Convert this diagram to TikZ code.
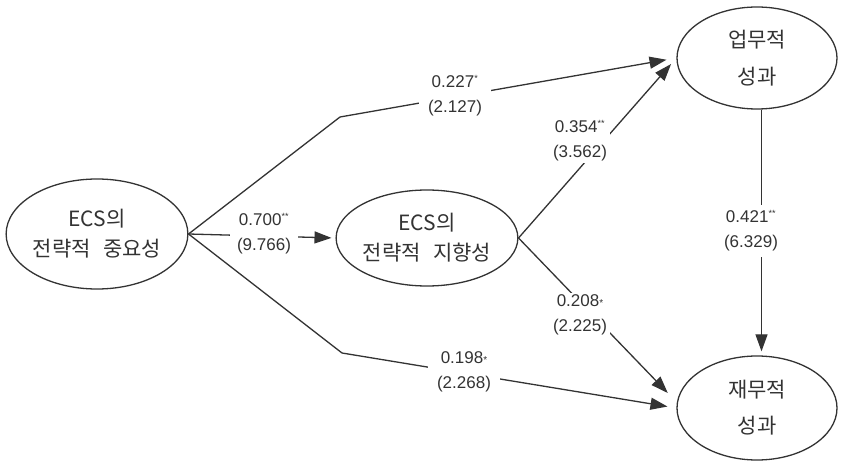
\documentclass[tikz,border=0pt]{standalone}
\usepackage{fontspec}
\setmainfont{Noto Sans CJK KR}
\newfontfamily\numfont{Liberation Sans}
\usetikzlibrary{shapes.geometric,arrows.meta,calc}
\definecolor{ink}{HTML}{333333}
\tikzset{
  construct/.style={ellipse, draw=ink, line width=1.3pt, inner sep=0pt, align=center,
    text=ink, font=\fontsize{21}{30}\selectfont},
  conn/.style={draw=ink, line width=1.3pt},
  arr/.style={conn, -{Triangle[length=17pt,width=12pt]}},
  coef/.style={fill=white, inner xsep=3pt, inner ysep=2pt, align=center, text=ink,
    font=\numfont\fontsize{17}{25}\selectfont}
}
\newcommand{\sstar}[1]{\textsuperscript{\fontsize{9}{9}\selectfont #1}}
\newcommand{\mstar}{{\fontsize{10}{10}\selectfont *}}
\begin{document}
\begin{tikzpicture}[x=1pt,y=-1pt]
\useasboundingbox (0,0) rectangle (841,462);
\fill[white] (0,0) rectangle (841,462);

\node[construct, minimum width=171pt, minimum height=110pt] (imp) at (97,234)
  {ECS의\\전략적\hspace{0.6em}중요성};
\node[construct, minimum width=171pt, minimum height=96pt] (ori) at (427,238)
  {ECS의\\전략적\hspace{0.6em}지향성};
\node[construct, minimum width=160pt, minimum height=102pt, font=\fontsize{21}{37}\selectfont] (job) at (757,58)
  {업무적\\성과};
\node[construct, minimum width=160pt, minimum height=104pt, font=\fontsize{21}{36}\selectfont] (fin) at (757,408)
  {재무적\\성과};

% paths
\coordinate (b1) at (340,117);
\coordinate (b2) at (342,353);
\draw[arr, shorten >=10pt] (imp.east) -- (b1) -- (job.west);
\draw[arr, shorten >=4pt] (imp.east) -- (ori.west);
\draw[arr, shorten >=9pt] (imp.east) -- (b2) -- (fin.west);
\draw[arr, shorten >=8pt] (ori.east) -- (job.west);
\draw[arr, shorten >=13pt] (ori.east) -- (fin.176);
\draw[arr, shorten >=4pt] (job.-85) -- (job.-85 |- fin.north);

% coefficients
\node[coef, inner xsep=9pt] (c1) at (455,96) {0.227\sstar{*}\\(2.127)};
\node[coef, inner xsep=7pt] (c2) at (264,234) {0.700\sstar{**}\\(9.766)};
\node[coef, inner xsep=9pt] (c3) at (464,372) {0.198\mstar\\(2.268)};
\node[coef] (c4) at (580,141) {0.354\sstar{**}\\(3.562)};
\node[coef] (c5) at (580,315) {0.208\mstar\\(2.225)};
\node[coef, inner ysep=6pt] (c6) at (751,231) {0.421\sstar{**}\\(6.329)};
\end{tikzpicture}
\end{document}
